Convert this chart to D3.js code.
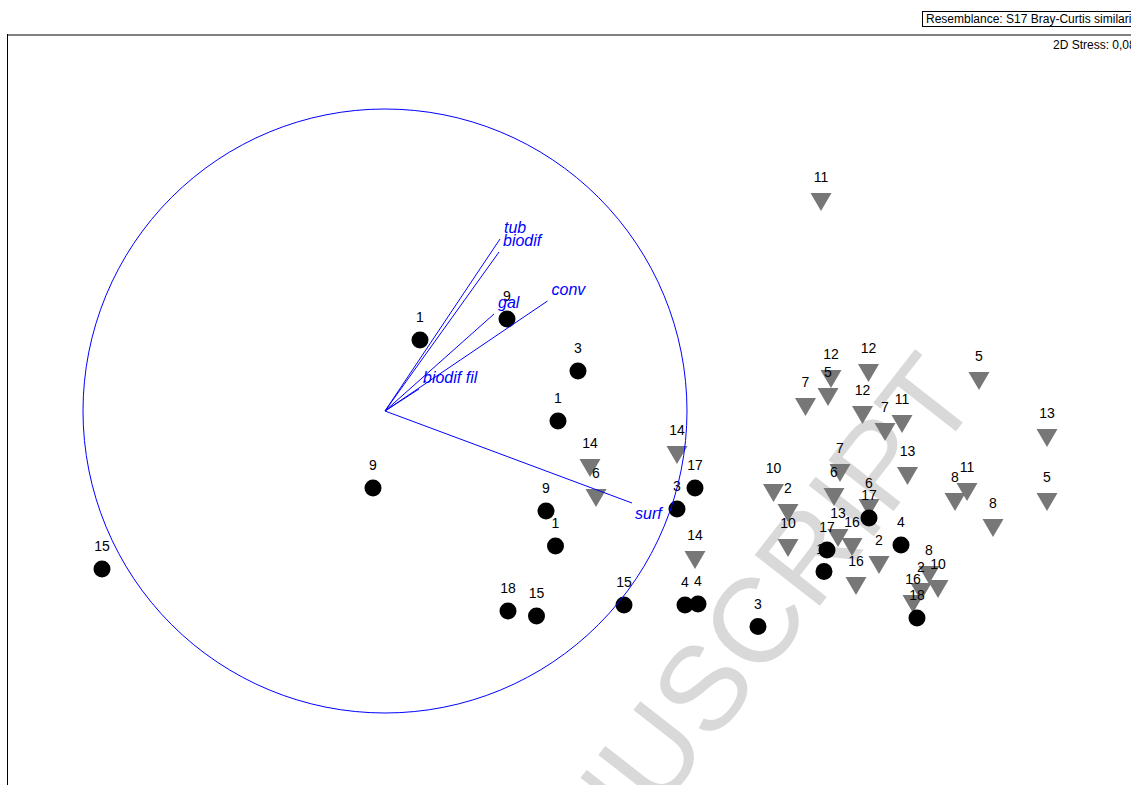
<!DOCTYPE html>
<html><head><meta charset="utf-8">
<script src="https://cdn.jsdelivr.net/npm/d3@7/dist/d3.min.js"></script>
<style>html,body{margin:0;padding:0;background:#fff;overflow:hidden}svg{display:block}</style>
</head><body><svg id="c" width="1131" height="785"></svg>
<script>
// Group A (filled circles)
const circleLabels = ["1","9","3","1","9","9","1","3","17","15","18","15","15","4","4","3","17","4","17","18","18"];
const circleX = [0.35,1.22,1.93,1.73,-0.12,1.61,1.705,2.92,3.10,-2.83,1.23,1.515,2.39,3.00,3.13,3.73,4.84,5.16,4.42,4.39,5.32];
const circleY = [0.71,0.92,0.40,-0.10,-0.77,-1.00,-1.35,-0.98,-0.77,-1.58,-2.00,-2.05,-1.94,-1.94,-1.93,-2.155,-1.07,-1.34,-1.39,-1.605,-2.07];
// Group B (inverted triangles)
const triLabels = ["11","12","5","12","7","12","7","11","5","13","13","7","6","6","10","2","10","13","16","2","16","8","10","2","16","14","6","14","14","8","11","5","8"];
const triX = [4.36,4.46,4.43,4.835,4.205,4.775,5.00,5.17,5.94,6.62,5.225,4.55,4.49,4.84,3.885,4.03,4.03,4.53,4.67,4.94,4.71,5.44,5.53,5.36,5.28,2.05,2.11,2.92,3.10,5.70,5.82,6.62,6.08];
const triY = [2.09,0.32,0.14,0.38,0.04,-0.04,-0.21,-0.13,0.30,-0.27,-0.65,-0.62,-0.86,-0.97,-0.82,-1.02,-1.37,-1.27,-1.36,-1.54,-1.75,-1.64,-1.78,-1.81,-1.93,-0.57,-0.87,-0.44,-1.49,-0.91,-0.81,-0.91,-1.17];
// Vector overlay
const vecNames = ["tub","biodif","gal","conv","biodif fil","surf"];
const vecX = [1.15,1.14,1.09,1.625,0.34,2.47];
const vecY = [1.72,1.59,0.97,1.10,0.22,-0.92];
const circleRadius = 3.02;
// Header texts
const resemblanceText = "Resemblance: S17 Bray-Curtis similarity";
const stressText = "2D Stress: 0,08";
const watermarkText = "ACCEPTED MANUSCRIPT";

const W = 1131, H = 785;
const svg = d3.select("#c");
const FONT = "'Liberation Sans', Arial, Helvetica, sans-serif";
const x = d3.scaleLinear().domain([-3.78, 7.46]).range([7, 1131]);
const y = d3.scaleLinear().domain([-3.74, 3.76]).range([785, 35]);

// watermark
svg.append("text").attr("transform","translate(982,398) rotate(-52)")
  .attr("text-anchor","end").attr("font-family",FONT).attr("font-size",120)
  .attr("fill","#d9d9d9").text(watermarkText);

// frame
svg.append("line").attr("x1",7).attr("x2",W).attr("y1",35).attr("y2",35).attr("stroke","#808080").attr("stroke-width",2);
svg.append("line").attr("x1",7.5).attr("x2",7.5).attr("y1",34).attr("y2",H).attr("stroke","#000").attr("stroke-width",1);

// header
svg.append("rect").attr("x",922.5).attr("y",11.5).attr("width",260).attr("height",15).attr("fill","none").attr("stroke","#000");
svg.append("text").attr("x",926).attr("y",23).attr("font-family",FONT).attr("font-size",12).attr("fill","#000").text(resemblanceText);
svg.append("text").attr("x",1053).attr("y",49).attr("font-family",FONT).attr("font-size",12).attr("fill","#000").text(stressText);

const tris = triX.map((v,i)=>({x:v,y:triY[i],l:triLabels[i]}));
const circs = circleX.map((v,i)=>({x:v,y:circleY[i],l:circleLabels[i]}));

svg.append("g").selectAll("path").data(tris).join("path")
  .attr("d",d=>{const px=x(d.x),py=y(d.y);return `M${px-10.5},${py-9}L${px+10.5},${py-9}L${px},${py+9}Z`;})
  .attr("fill","#777777");

const lg = svg.append("g").attr("font-family",FONT).attr("font-size",14).attr("fill","#000").attr("text-anchor","middle");
lg.selectAll("text.t").data(tris).join("text").attr("class","t").attr("x",d=>x(d.x)).attr("y",d=>y(d.y)-20).text(d=>d.l);
lg.selectAll("text.c").data(circs).join("text").attr("class","c").attr("x",d=>x(d.x)).attr("y",d=>y(d.y)-18).text(d=>d.l);

svg.append("g").selectAll("circle").data(circs).join("circle")
  .attr("cx",d=>x(d.x)).attr("cy",d=>y(d.y)).attr("r",8.5).attr("fill","#000");

// vector overlay
const ov = svg.append("g");
ov.append("circle").attr("cx",x(0)).attr("cy",y(0)).attr("r",x(circleRadius)-x(0)).attr("fill","none").attr("stroke","#0000ff").attr("stroke-width",1);
vecNames.forEach((n,i)=>{
  ov.append("line").attr("x1",x(0)).attr("y1",y(0)).attr("x2",x(vecX[i])).attr("y2",y(vecY[i])).attr("stroke","#0000ff").attr("stroke-width",1);
  const below = vecY[i] < 0;
  ov.append("text").attr("x",x(vecX[i])+(below?3:4)).attr("y",y(vecY[i])+(below?16:-6))
    .attr("font-family",FONT).attr("font-size",16).attr("font-style","italic").attr("fill","#0000ff").text(n);
});
</script></body></html>
